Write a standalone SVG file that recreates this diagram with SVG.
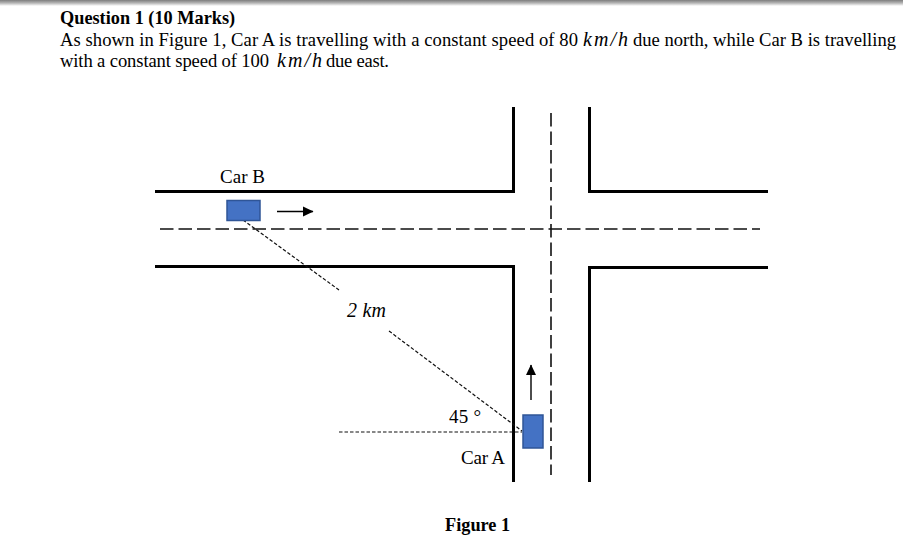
<svg xmlns="http://www.w3.org/2000/svg" width="903" height="551" viewBox="0 0 903 551">
<defs>
<linearGradient id="topShade" x1="0" y1="0" x2="0" y2="1"><stop offset="0" stop-color="#7d7d7d"/><stop offset="0.5" stop-color="#b5b5b5"/><stop offset="1" stop-color="#ffffff"/></linearGradient>
<marker id="arrow" markerUnits="userSpaceOnUse" markerWidth="12" markerHeight="12" refX="10" refY="6" orient="auto"><path d="M0,1 L10.500,6 L0,11 Z" fill="#000"/></marker>
</defs>
<style>
text{font-family:"Liberation Serif","Times New Roman",serif;fill:#000}
.head{font-size:18.3px;font-weight:bold}
.body{font-size:18.6px}
.label{font-size:19px}
.math{font-style:italic;font-size:20px}
.road{fill:none;stroke:#000;stroke-width:3}
.centre{fill:none;stroke:#111;stroke-width:1.6;stroke-dasharray:13.5 5}
.sight{fill:none;stroke:#111;stroke-width:1.2;stroke-dasharray:3.5 2}
.car{fill:#4472c4;stroke:#2f5597;stroke-width:1.5}
.dir{fill:none;stroke:#000;stroke-width:1.4;marker-end:url(#arrow)}
</style>
<rect width="903" height="6" fill="url(#topShade)"/>
<text x="60" y="24" class="head">Question 1 (10 Marks)</text>
<text x="60" y="46" class="body" textLength="518" lengthAdjust="spacing">As shown in Figure 1, Car A is travelling with a constant speed of 80</text>
<text x="583" y="46" class="math" textLength="45" lengthAdjust="spacing">km/h</text>
<text x="633" y="46" class="body" textLength="263" lengthAdjust="spacing">due north, while Car B is travelling</text>
<text x="60" y="67" class="body" textLength="209" lengthAdjust="spacing">with a constant speed of 100</text>
<text x="277" y="67" class="math" textLength="45" lengthAdjust="spacing">km/h</text>
<text x="326" y="67" class="body" textLength="63" lengthAdjust="spacing">due east.</text>
<g id="roads">
<path class="road" d="M155,191.500H513.500V107"/>
<path class="road" d="M589.500,107V191.500H768"/>
<path class="road" d="M155,266.500H513.500V482"/>
<path class="road" d="M768,267.500H589.500V482"/>
</g>
<g id="centre-lines">
<path class="centre" d="M160,229H760"/>
<path class="centre" d="M551,113V475"/>
</g>
<g id="connectors">
<path class="sight" d="M243,220L339,290"/>
<path class="sight" d="M389,331L522,431"/>
<path class="sight" d="M339,432H522"/>
<path class="dir" d="M277,211.500H313"/>
<path class="dir" d="M531,400V365"/>
</g>
<g id="car-b"><rect class="car" x="227" y="200.500" width="33" height="20"/></g>
<g id="car-a"><rect class="car" x="523" y="415" width="20" height="33"/></g>
<g id="labels">
<text x="220" y="183" class="label" textLength="45" lengthAdjust="spacing">Car B</text>
<text x="461" y="464" class="label" textLength="44" lengthAdjust="spacing">Car A</text>
<text x="347" y="317" class="math" textLength="39" lengthAdjust="spacing">2 km</text>
<text x="449" y="423" class="label" textLength="32" lengthAdjust="spacing">45 °</text>
<text x="445" y="531" class="head">Figure 1</text>
</g>
</svg>
